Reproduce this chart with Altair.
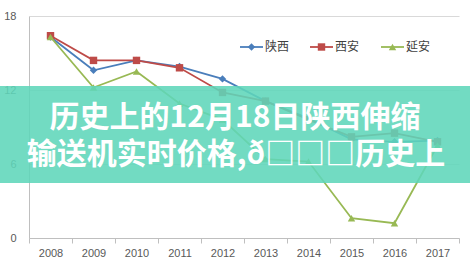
import altair as alt
import pandas as pd

years = ["2008", "2009", "2010", "2011", "2012", "2013", "2014", "2015", "2016", "2017"]
series_names = ["陕西", "西安", "延安"]
shaanxi = [16.3, 13.6, 14.4, 13.9, 12.9, 11.1, 9.7, 8.0, 7.8, 7.9]
xian = [16.4, 14.4, 14.4, 13.8, 11.8, 11.1, 9.6, 8.2, 8.5, 7.8]
yanan = [16.3, 12.2, 13.5, 10.9, 9.6, 6.4, 6.2, 1.6, 1.2, 7.5]
y_ticks = [0, 6, 12, 18]
colors = ["#4A7EBB", "#BE4B48", "#98B954"]
shapes = ["diamond", "square", "triangle-up"]
title_lines = ["历史上的12月18日陕西伸缩", "输送机实时价格,ð□□□历史上"]

rows = []
for name, vals in zip(series_names, [shaanxi, xian, yanan]):
    for yr, v in zip(years, vals):
        rows.append({"year": yr, "value": v, "series": name})
df = pd.DataFrame(rows)

W, H = 430, 222

x_enc = alt.X(
    "year:O",
    sort=years,
    bandPosition=0.5,
    scale=alt.Scale(type="band", paddingInner=0, paddingOuter=0),
    axis=alt.Axis(
        title=None, labelAngle=0, tickBand="extent", tickSize=5,
        tickColor="#BFBFBF", domainColor="#BFBFBF", labelColor="#595959",
        labelFont="Liberation Sans", labelFontSize=11, labelPadding=4, grid=False,
    ),
)
y_enc = alt.Y(
    "value:Q",
    scale=alt.Scale(domain=[0, 18], nice=False, zero=True),
    axis=alt.Axis(
        title=None, values=y_ticks, tickSize=0, labelPadding=13,
        domainColor="#BFBFBF", gridColor="#D9D9D9", labelColor="#595959",
        labelFont="Liberation Sans", labelFontSize=11,
    ),
)
color_enc = alt.Color("series:N", scale=alt.Scale(domain=series_names, range=colors), legend=None)
shape_enc = alt.Shape("series:N", scale=alt.Scale(domain=series_names, range=shapes), legend=None)

base = alt.Chart(df)
lines = base.mark_line(strokeWidth=1.8).encode(x=x_enc, y=y_enc, color=color_enc, detail="series:N")
points = base.mark_point(filled=True, size=55, opacity=1).encode(
    x=x_enc, y=y_enc, color=color_enc, shape=shape_enc
)

# manual Excel-style legend
legend_layers = []
leg_x = [211, 281, 352]
for i, name in enumerate(series_names):
    ldf = pd.DataFrame({"series": [name]})
    lc = alt.Chart(ldf)
    legend_layers.append(
        lc.mark_rule(color=colors[i], strokeWidth=1.8).encode(
            x=alt.value(leg_x[i]), x2=alt.value(leg_x[i] + 23), y=alt.value(31)
        )
    )
    legend_layers.append(
        lc.mark_point(filled=True, size=55, color=colors[i], shape=shapes[i], opacity=1).encode(
            x=alt.value(leg_x[i] + 11.5), y=alt.value(31)
        )
    )
    legend_layers.append(
        lc.mark_text(align="left", baseline="middle", fontSize=12, color="#404040",
                     font="Noto Sans CJK SC").encode(
            x=alt.value(leg_x[i] + 25), y=alt.value(31), text="series:N"
        )
    )

banner = alt.Chart(pd.DataFrame({"a": [0]})).mark_rect(color="#5FD6BA", opacity=0.88).encode(
    x=alt.value(-29), x2=alt.value(441), y=alt.value(70), y2=alt.value(167)
)
title1 = alt.Chart(pd.DataFrame({"t": [title_lines[0]]})).mark_text(
    align="center", baseline="middle", fontSize=30, fontWeight="bold",
    font="Noto Sans CJK SC", color="white"
).encode(x=alt.value(206), y=alt.value(102), text="t:N")
title2 = alt.Chart(pd.DataFrame({"t": [title_lines[1]]})).mark_text(
    align="center", baseline="middle", fontSize=30, fontWeight="bold",
    font="Noto Sans CJK SC", color="white"
).encode(x=alt.value(207), y=alt.value(139), text="t:N")

chart = alt.layer(lines, points, *legend_layers, banner, title1, title2).properties(
    width=W, height=H,
    autosize=alt.AutoSizeParams(type="none"),
    padding={"left": 29, "top": 16, "right": 11, "bottom": 32},
    background="white",
).configure_view(stroke=None)

chart.save("out.html", embed_options={"renderer": "svg", "actions": False})
